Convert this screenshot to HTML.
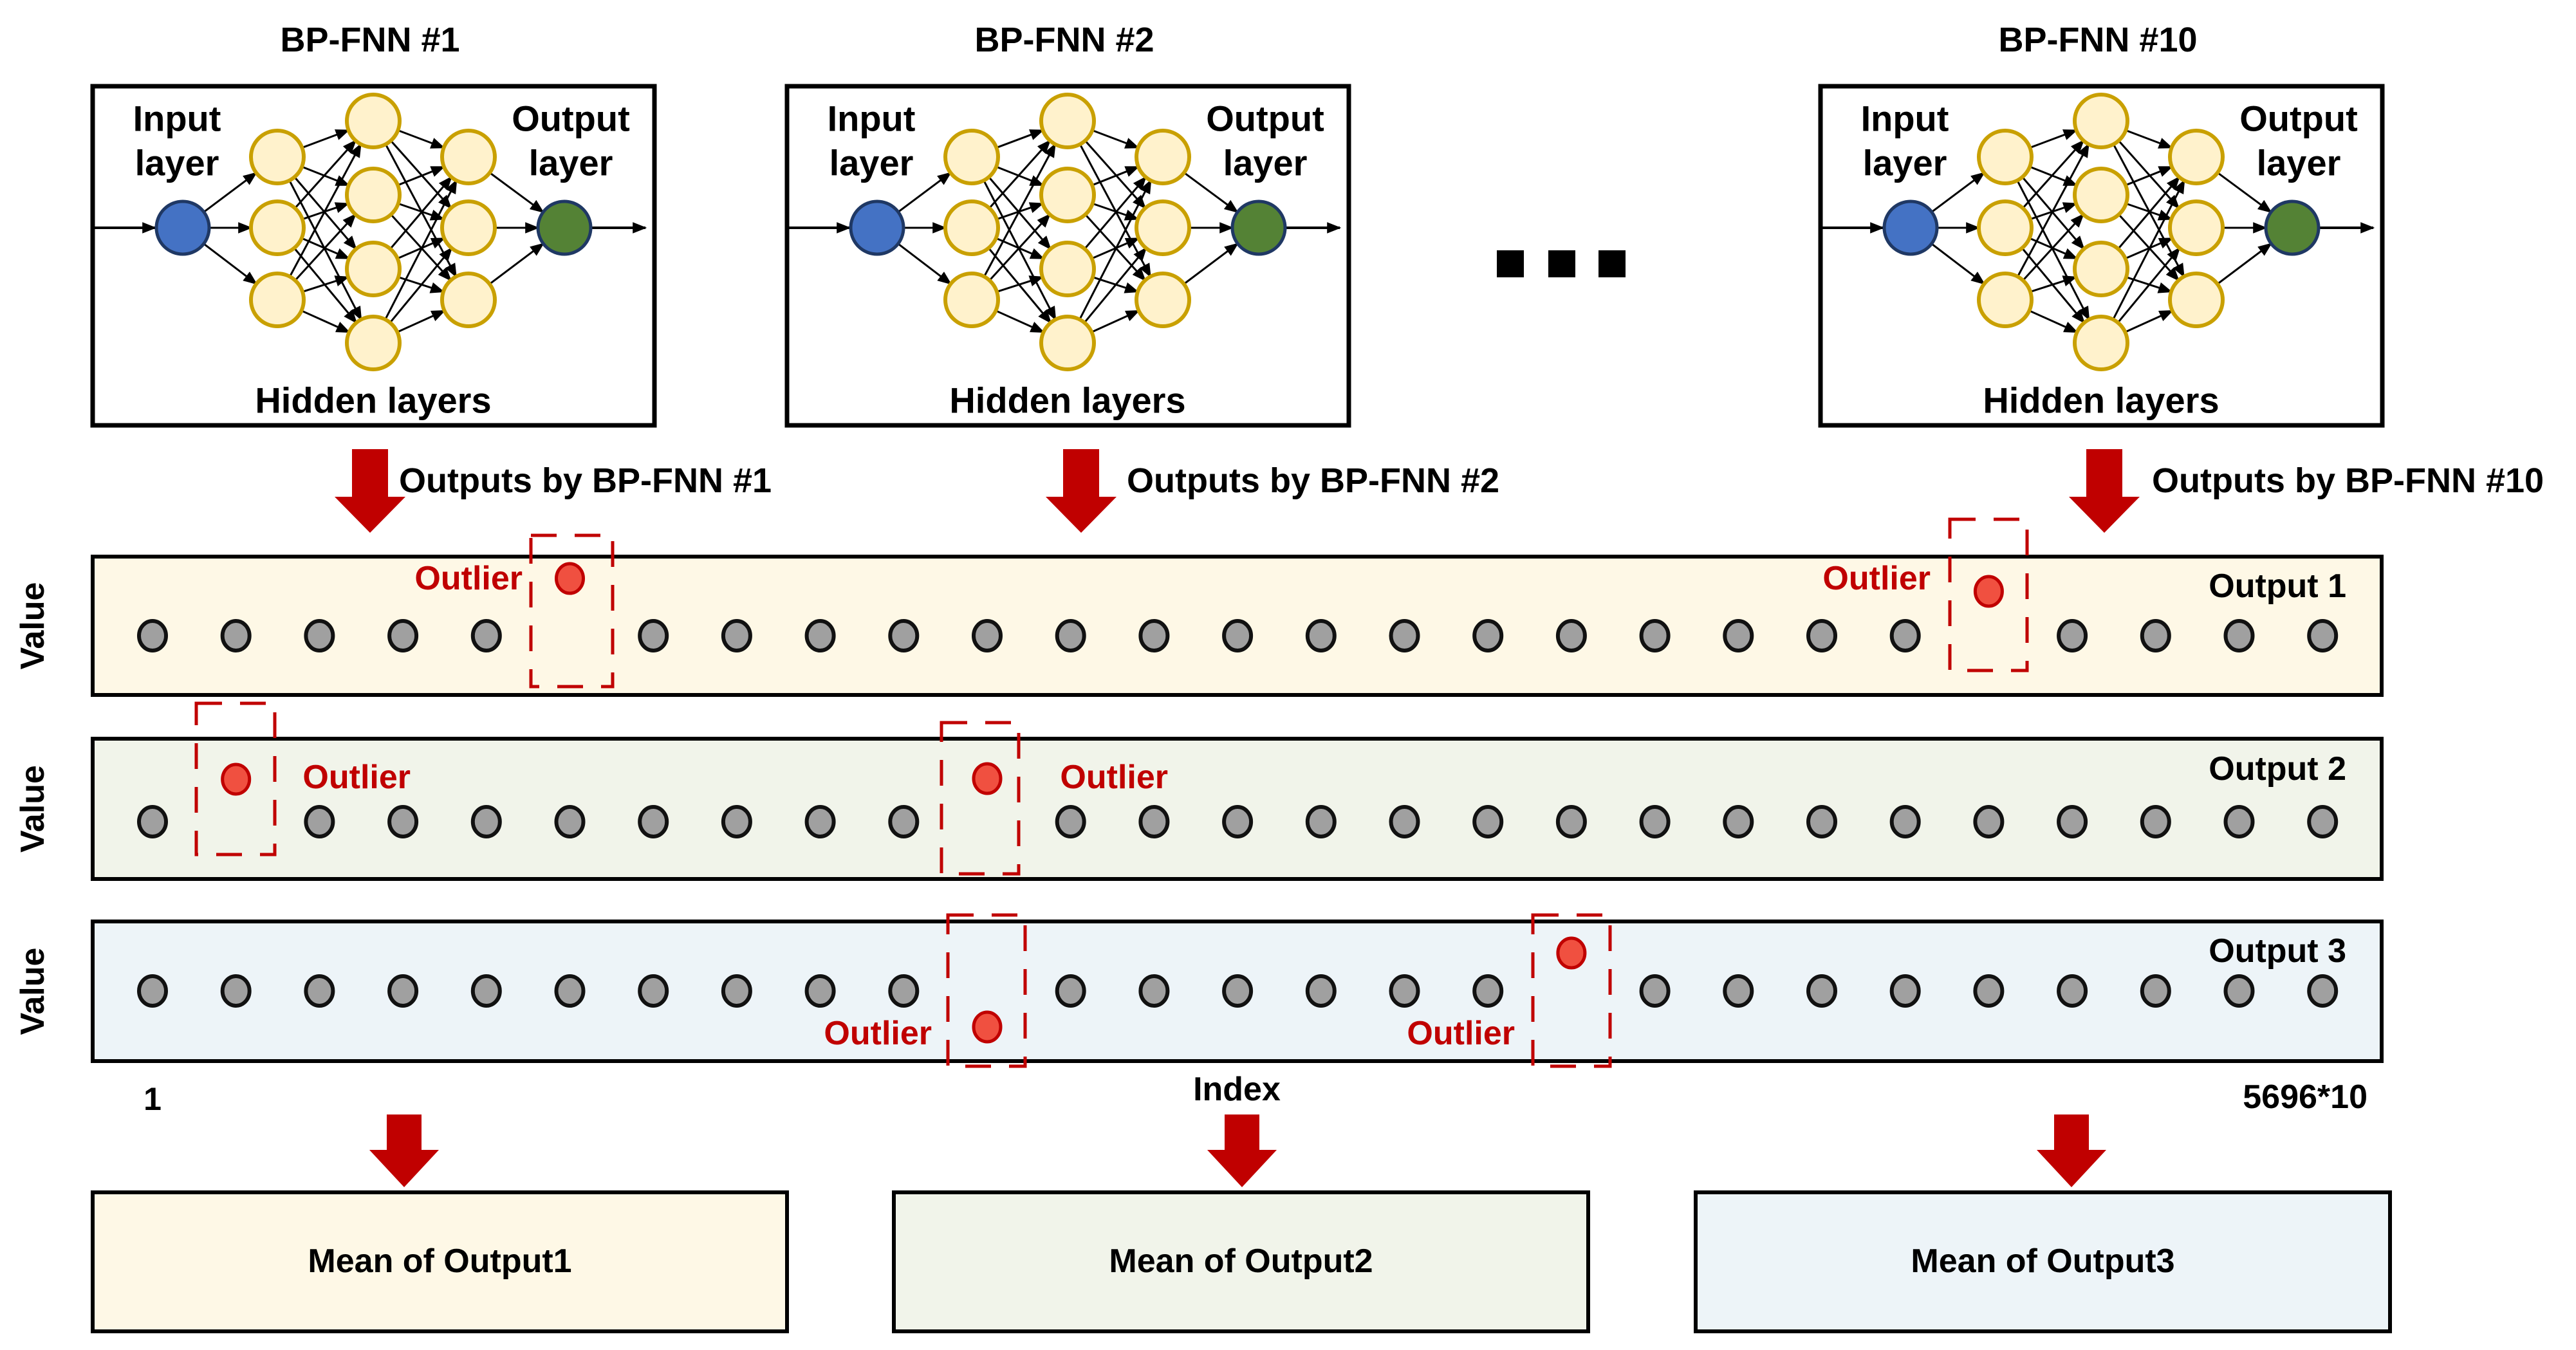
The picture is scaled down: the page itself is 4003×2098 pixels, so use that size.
<!DOCTYPE html>
<html><head><meta charset="utf-8"><style>
html,body{margin:0;padding:0;background:#fff}
svg{display:block}
text{font-family:"Liberation Sans",Arial,sans-serif;font-weight:bold}
</style></head><body>
<svg id="s" width="4003" height="2098" viewBox="0 0 4003 2098" xmlns="http://www.w3.org/2000/svg">
<defs>
<marker id="ah2" viewBox="0 0 10 10" refX="9" refY="5" markerWidth="22" markerHeight="22" orient="auto" markerUnits="userSpaceOnUse">
<path d="M0,1 L10,5 L0,9 z" fill="#000"/></marker>
</defs>
<g id="g"></g>
</svg>
<script>
var g=document.getElementById('g');var h='';
function T(x,y,s,t,a,c,extra){h+='<text x="'+x+'" y="'+y+'" font-size="'+s+'" text-anchor="'+(a||'middle')+'" dominant-baseline="central" fill="'+(c||'#000')+'" '+(extra||'')+'>'+t+'</text>';}
var boxes=[[141,'BP-FNN #1'],[1220,'BP-FNN #2'],[2826,'BP-FNN #10']];
boxes.forEach(function(b){
 var L=b[0];
 h+='<rect x="'+(L+3)+'" y="134" width="873" height="527" fill="#fff" stroke="#000" stroke-width="7"/>';
 T(L+434,62,54,b[1]);
 var cy=354;
 var inp=[L+143,cy],out=[L+736,cy];
 var h1=[[L+290,244],[L+290,354],[L+290,466]];
 var h2=[[L+439,188],[L+439,303],[L+439,418],[L+439,533]];
 var h3=[[L+587,244],[L+587,354],[L+587,466]];
 var r=41;
 function edge(a,c){var dx=c[0]-a[0],dy=c[1]-a[1],d=Math.sqrt(dx*dx+dy*dy);
  var x1=a[0]+dx/d*r,y1=a[1]+dy/d*r,x2=c[0]-dx/d*r,y2=c[1]-dy/d*r;
  h+='<line x1="'+x1+'" y1="'+y1+'" x2="'+x2+'" y2="'+y2+'" stroke="#000" stroke-width="3" marker-end="url(#ah2)"/>';}
 h+='<line x1="'+(L+4)+'" y1="'+cy+'" x2="'+(L+100)+'" y2="'+cy+'" stroke="#000" stroke-width="4" marker-end="url(#ah2)"/>';
 h+='<line x1="'+(L+777)+'" y1="'+cy+'" x2="'+(L+862)+'" y2="'+cy+'" stroke="#000" stroke-width="4" marker-end="url(#ah2)"/>';
 h1.forEach(function(n){edge(inp,n)});
 h1.forEach(function(a){h2.forEach(function(c){edge(a,c)})});
 h2.forEach(function(a){h3.forEach(function(c){edge(a,c)})});
 h3.forEach(function(a){edge(a,out)});
 h1.concat(h2,h3).forEach(function(n){h+='<circle cx="'+n[0]+'" cy="'+n[1]+'" r="'+r+'" fill="#fff2cc" stroke="#c9a000" stroke-width="6"/>';});
 h+='<circle cx="'+inp[0]+'" cy="'+cy+'" r="'+r+'" fill="#4472c4" stroke="#1f3864" stroke-width="5"/>';
 h+='<circle cx="'+out[0]+'" cy="'+cy+'" r="'+r+'" fill="#548235" stroke="#1f3864" stroke-width="5"/>';
 T(L+134,184,56,'Input');T(L+134,253,56,'layer');
 T(L+746,184,56,'Output');T(L+746,253,56,'layer');
 T(L+439,622,56,'Hidden layers');
});
[2326,2406,2484].forEach(function(x){h+='<rect x="'+x+'" y="389" width="42" height="42" fill="#000"/>';});
function RA(cx,top,htop,tip,sw,hw){h+='<path d="M'+(cx-sw/2)+','+top+' L'+(cx+sw/2)+','+top+' L'+(cx+sw/2)+','+htop+' L'+(cx+hw/2)+','+htop+' L'+cx+','+tip+' L'+(cx-hw/2)+','+htop+' L'+(cx-sw/2)+','+htop+' z" fill="#c00000"/>';}
RA(575,698,772,828,56,110);RA(1680,698,772,828,56,110);RA(3270,698,772,828,56,110);
T(620,747,54,'Outputs by BP-FNN #1','start');
T(1751,747,54,'Outputs by BP-FNN #2','start');
T(3344,747,54,'Outputs by BP-FNN #10','start');
var rows=[[865,1080,'#fef8e6','Output 1',911],[1148,1366,'#f1f4ea','Output 2',1195],[1432,1649,'#edf4f8','Output 3',1478]];
var x0=237,dx=129.7;
var outl=[[[5,899],[22,919]],[[1,1211],[10,1210]],[[10,1596],[17,1481]]];
rows.forEach(function(rw,i){
 h+='<rect x="144" y="'+rw[0]+'" width="3557" height="'+(rw[1]-rw[0])+'" fill="'+rw[2]+'" stroke="#000" stroke-width="6"/>';
 T(3646,rw[4],52,rw[3],'end');
 var my=(rw[0]+rw[1])/2;
 T(51,my,52,'Value','middle','#000','transform="rotate(-90 51 '+my+')"');
 var dy=[988,1277,1540][i];
 for(var k=0;k<27;k++){
  var o=outl[i].filter(function(q){return q[0]==k})[0];
  var x=x0+dx*k;
  if(o){h+='<ellipse cx="'+x+'" cy="'+o[1]+'" rx="21" ry="23" fill="#f05040" stroke="#c00000" stroke-width="5"/>';}
  else h+='<ellipse cx="'+x+'" cy="'+dy+'" rx="21" ry="23" fill="#a0a0a0" stroke="#111" stroke-width="6"/>';
 }
});
[[825,832,952,1067],[3030,807,3150,1042],[305,1093,427,1328],[1463,1123,1583,1358],[1473,1422,1593,1657],[2382,1422,2502,1657]].forEach(function(b){
 h+='<rect x="'+b[0]+'" y="'+b[1]+'" width="'+(b[2]-b[0])+'" height="'+(b[3]-b[1])+'" fill="none" stroke="#c00000" stroke-width="5" stroke-dasharray="40,28"/>';});
[[812,899],[3000,899],[638,1208],[1815,1208],[1448,1606],[2354,1606]].forEach(function(p){T(p[0],p[1],52,'Outlier','end','#c00000');});
T(237,1708,50,'1');T(1922,1693,52,'Index');T(3679,1705,52,'5696*10','end');
RA(628,1732,1787,1845,54,108);RA(1930,1732,1787,1845,54,108);RA(3219,1732,1787,1845,54,108);
[[141,1226,'#fef8e6','Mean of Output1'],[1386,2471,'#f1f4ea','Mean of Output2'],[2632,3717,'#edf4f8','Mean of Output3']].forEach(function(b){
 h+='<rect x="'+(b[0]+3)+'" y="1853" width="'+(b[1]-b[0]-6)+'" height="216" fill="'+b[2]+'" stroke="#000" stroke-width="6"/>';
 T((b[0]+b[1])/2,1960,52,b[3]);});
g.innerHTML=h;
</script>
</body></html>
